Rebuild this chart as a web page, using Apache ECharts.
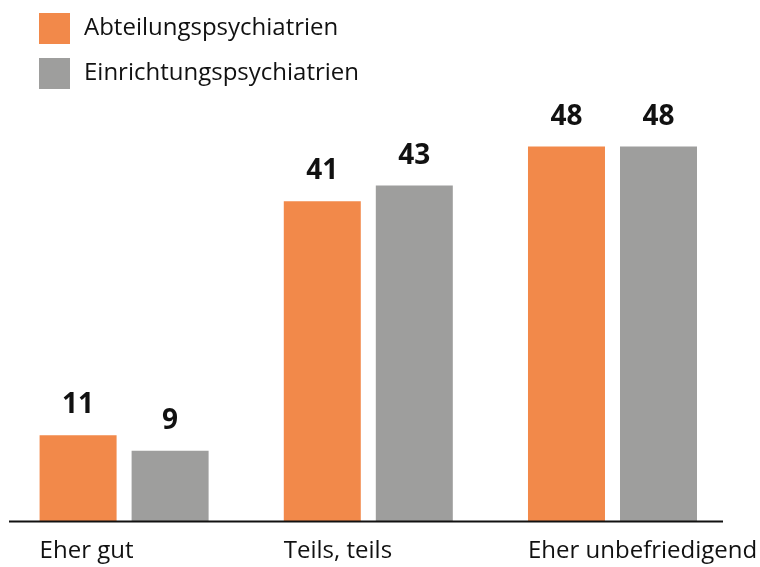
<!DOCTYPE html>
<html>
<head>
<meta charset="utf-8">
<script src="https://cdn.jsdelivr.net/npm/echarts@6/dist/echarts.min.js"></script>
<style>
  html, body { margin: 0; padding: 0; background: #fff; }
  #main { width: 760px; height: 567px; }
</style>
</head>
<body>
<div id="main"></div>
<script>
  // Daten
  var categories = ['Eher gut', 'Teils, teils', 'Eher unbefriedigend'];
  var abteilung = [11, 41, 48];
  var einrichtung = [9, 43, 48];
  var seriesNames = ['Abteilungspsychiatrien', 'Einrichtungspsychiatrien'];

  var font = '"Open Sans", "Noto Sans", sans-serif';
  var chart = echarts.init(document.getElementById('main'));

  var valueLabel = {
    show: true,
    position: 'top',
    distance: 16,
    color: '#111',
    fontFamily: font,
    fontWeight: 'bold',
    fontSize: 28
  };

  var option = {
    animation: false,
    legend: {
      orient: 'vertical',
      left: 34,
      top: 8,
      itemWidth: 31,
      itemHeight: 31,
      itemGap: 14,
      icon: 'rect',
      textStyle: { fontFamily: font, fontSize: 24, color: '#111', padding: [0, 0, 0, 9] },
      data: seriesNames
    },
    grid: { left: 2, right: 24, top: 53, bottom: 46 },
    xAxis: {
      type: 'category',
      data: categories,
      axisLine: { show: false },
      axisTick: { show: false },
      axisLabel: {
        interval: 0,
        margin: 18,
        align: 'center',
        formatter: function (v) { return '{a|' + v + '}'; },
        rich: {
          a: { width: 169, align: 'left', fontFamily: font, fontSize: 24, color: '#111' }
        }
      }
    },
    yAxis: { type: 'value', min: 0, max: 60, show: false },
    graphic: [{
      type: 'line',
      z: 100,
      shape: { x1: 9, y1: 521.5, x2: 723, y2: 521.5 },
      style: { stroke: '#111', lineWidth: 2 }
    }],
    series: [
      {
        name: seriesNames[0],
        type: 'bar',
        data: abteilung,
        barWidth: 77,
        barGap: '19.5%',
        itemStyle: { color: '#F2894A' },
        label: valueLabel
      },
      {
        name: seriesNames[1],
        type: 'bar',
        data: einrichtung,
        barWidth: 77,
        itemStyle: { color: '#9E9E9D' },
        label: valueLabel
      }
    ]
  };

  chart.setOption(option);
</script>
</body>
</html>
